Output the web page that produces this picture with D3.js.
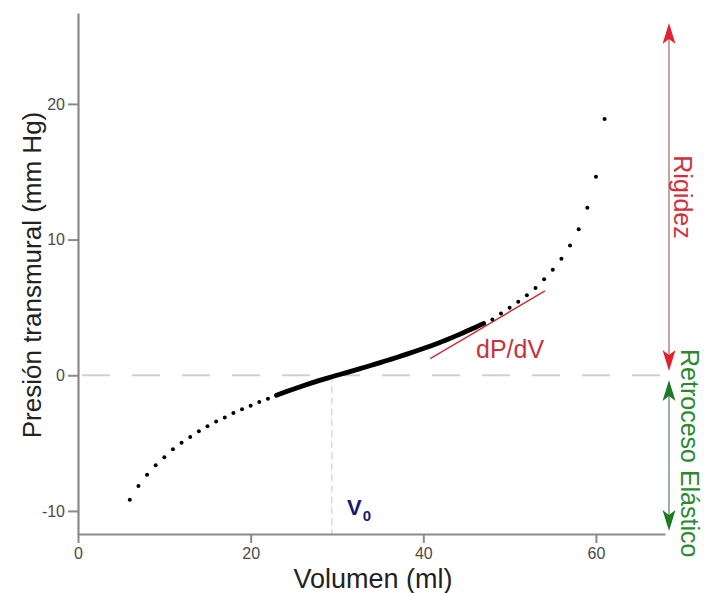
<!DOCTYPE html>
<html><head><meta charset="utf-8">
<script src="https://cdn.jsdelivr.net/npm/d3@7"></script>
<style>
html,body{margin:0;padding:0;background:#fff;}
svg{display:block;font-family:"Liberation Sans",Arial,sans-serif;}
</style></head>
<body>
<svg id="chart" width="704" height="593"></svg>
<script>
// ---- data ----
const dotVolumes   = [6,7,8,9,10,11,12,13,14,15,16,17,18,19,20,21,22,
                      48,49,50,51,52,53,54,55,56,57,58,59,60,61];
const dotPressures = [-9.17,-8.17,-7.33,-6.64,-6.04,-5.46,-4.97,-4.55,-4.13,-3.76,-3.40,-3.12,-2.78,-2.51,-2.24,-1.98,-1.73,
                      4.11,4.55,4.97,5.41,5.90,6.44,7.08,7.77,8.58,9.57,10.77,12.35,14.64,18.89];
const curveVolumes   = [23,24,25,26,27,28,29,30,31,32,33,34,35,36,37,38,39,40,41,42,43,44,45,46,47];
const curvePressures = [-1.48,-1.24,-1.01,-0.79,-0.58,-0.38,-0.19,0.0,0.18,0.36,0.55,0.74,0.93,1.13,1.33,1.54,1.75,1.97,2.20,2.44,2.69,2.96,3.24,3.52,3.82];
const tangentVolumes   = [40.8, 54.1];
const tangentPressures = [1.23, 6.22];
const v0 = 29.4;
const xTicks = [0,20,40,60];
const yTicks = [-10,0,10,20];

// ---- layout ----
const svg = d3.select("#chart");
const x = d3.scaleLinear().domain([0,68]).range([78,665]);
const y = d3.scaleLinear().domain([-11.7,26.7]).range([534,13]);
const axisColor = "#8a8a8a";

// zero dashed line
svg.append("line")
  .attr("x1", x(0)+4).attr("x2", x(68)+2)
  .attr("y1", y(0)).attr("y2", y(0))
  .attr("stroke","#cfcfcf").attr("stroke-width",2)
  .attr("stroke-dasharray","28,22");

// V0 dashed vertical line
svg.append("line")
  .attr("x1", x(v0)).attr("x2", x(v0))
  .attr("y1", y(0)).attr("y2", y(-11.7))
  .attr("stroke","#d4d4d4").attr("stroke-width",1.3)
  .attr("stroke-dasharray","7,4");

// axes
const fmt = d => String(d);
const gx = svg.append("g").attr("transform",`translate(0,${y(-11.7)})`)
  .call(d3.axisBottom(x).tickValues(xTicks).tickFormat(fmt).tickSize(9).tickSizeOuter(0).tickPadding(5));
const gy = svg.append("g").attr("transform",`translate(${x(0)},0)`)
  .call(d3.axisLeft(y).tickValues(yTicks).tickFormat(fmt).tickSize(10).tickSizeOuter(0).tickPadding(3));
[gx,gy].forEach(g=>{
  g.select(".domain").attr("stroke",axisColor).attr("stroke-width",2.2);
  g.selectAll(".tick line").attr("stroke",axisColor).attr("stroke-width",2);
  g.selectAll(".tick text").attr("fill","#4a4a4a").attr("font-size",16)
   .attr("font-family","'Liberation Sans',Arial,sans-serif");
});

// axis titles
svg.append("text").attr("x",373).attr("y",588).attr("text-anchor","middle")
  .attr("font-size",27).attr("fill","#222").text("Volumen (ml)");
svg.append("text").attr("transform",`translate(41,275) rotate(-90)`)
  .attr("text-anchor","middle").attr("font-size",26).attr("fill","#222")
  .text("Presión transmural (mm Hg)");

// tangent line
svg.append("line")
  .attr("x1", x(tangentVolumes[0])).attr("y1", y(tangentPressures[0]))
  .attr("x2", x(tangentVolumes[1])).attr("y2", y(tangentPressures[1]))
  .attr("stroke","#c8323c").attr("stroke-width",1.5);

// dense curve
svg.append("path")
  .datum(curveVolumes.map((v,i)=>[v,curvePressures[i]]))
  .attr("fill","none").attr("stroke","#000").attr("stroke-width",4.8)
  .attr("stroke-linecap","round")
  .attr("d", d3.line().x(d=>x(d[0])).y(d=>y(d[1])).curve(d3.curveMonotoneX));

// dots
svg.append("g").selectAll("circle")
  .data(dotVolumes.map((v,i)=>[v,dotPressures[i]]))
  .join("circle")
  .attr("cx",d=>x(d[0])).attr("cy",d=>y(d[1])).attr("r",2).attr("fill","#000");

// labels
svg.append("text").attr("x",476).attr("y",358).attr("font-size",25)
  .attr("fill","#c8323c").text("dP/dV");
const v0t = svg.append("text").attr("x",347).attr("y",515).attr("font-size",22)
  .attr("font-weight","bold").attr("fill","#1b1b6e");
v0t.append("tspan").text("V");
v0t.append("tspan").attr("font-size",15).attr("dy",6).attr("dx",1).text("0");

// right arrows
const ax = 669;
function head(tipY, dir, color){ // dir -1 = up, 1 = down
  const L = 21, W = 6.5, N = 5;
  const p = d3.path();
  p.moveTo(ax, tipY);
  p.lineTo(ax+W, tipY - dir*L);
  p.lineTo(ax, tipY - dir*(L-N));
  p.lineTo(ax-W, tipY - dir*L);
  p.closePath();
  svg.append("path").attr("d",p.toString()).attr("fill",color);
}
svg.append("line").attr("x1",ax).attr("x2",ax).attr("y1",30).attr("y2",362)
  .attr("stroke","#c9a3a3").attr("stroke-width",2);
head(23,-1,"#e3232b");
head(371,1,"#e3232b");
svg.append("line").attr("x1",ax).attr("x2",ax).attr("y1",390).attr("y2",522)
  .attr("stroke","#a3ada3").attr("stroke-width",2);
head(380,-1,"#1e7a22");
head(531,1,"#1e7a22");

svg.append("text").attr("transform","translate(674,197) rotate(90)")
  .attr("text-anchor","middle").attr("font-size",25).attr("fill","#d2323c").text("Rigidez");
svg.append("text").attr("transform","translate(681,349) rotate(90)")
  .attr("text-anchor","start").attr("font-size",25).attr("fill","#2a8a2e").text("Retroceso Elástico");
</script>
</body></html>
